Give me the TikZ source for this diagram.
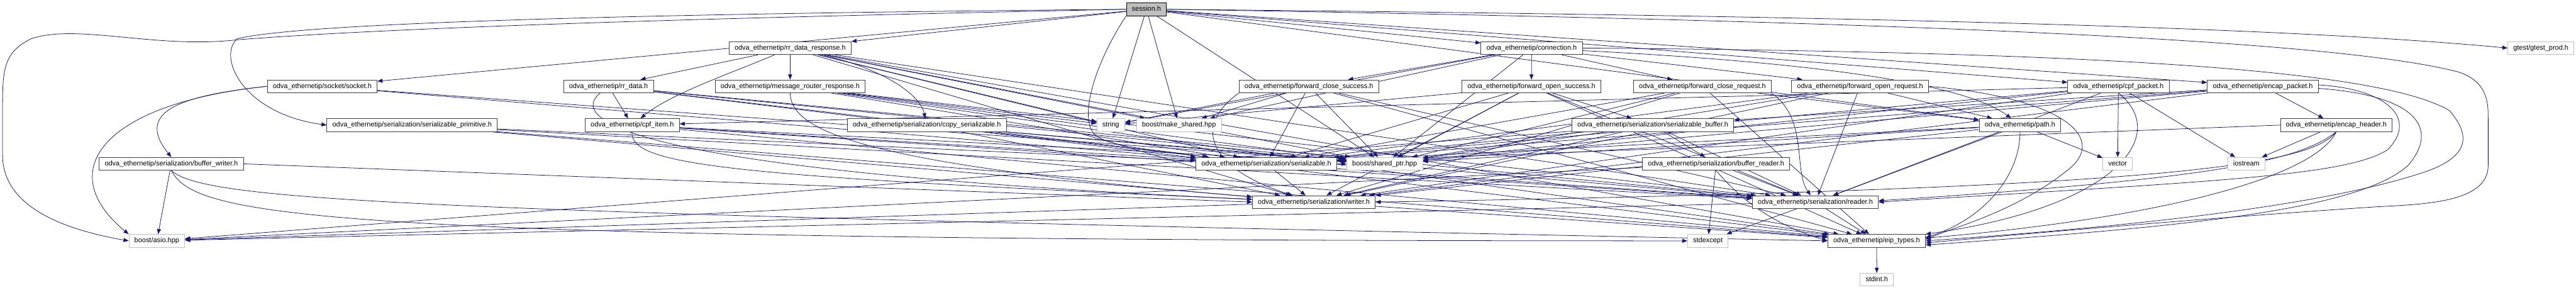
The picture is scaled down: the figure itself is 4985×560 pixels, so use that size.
\documentclass[tikz,border=0pt]{standalone}
\usepackage{fontspec}
\setmainfont{Liberation Sans}
\usetikzlibrary{arrows.meta,backgrounds}
\definecolor{edgec}{HTML}{191970}
\definecolor{graybd}{HTML}{BFBFBF}
\definecolor{nodebd}{HTML}{404040}
\tikzset{
  box/.style={draw=nodebd, fill=white, line width=0.75pt, minimum height=18.75pt, inner xsep=8pt, inner ysep=0pt, font=\fontsize{10pt}{12pt}\selectfont, text height=7.3pt, text depth=2pt},
  ext/.style={box, draw=graybd},
  root/.style={box, fill=graybd, draw=black},
  edge/.style={draw=edgec, line width=0.7pt, -{Triangle[length=7.5pt,width=5.8pt]}},
}
\begin{document}
\begin{tikzpicture}[x=0.75pt,y=-0.75pt]
\useasboundingbox (0,0) rectangle (4985,560);
% nodes
\node[root] (S) at (2218.5,18) {session.h};
\node[box] (RRR) at (1529,93) {odva\_ethernetip/rr\_data\_response.h};
\node[box] (CON) at (2964,93) {odva\_ethernetip/connection.h};
\node[ext] (GT) at (4917,93) {gtest/gtest\_prod.h};
\node[box] (SOC) at (623.5,167) {odva\_ethernetip/socket/socket.h};
\node[box] (RRD) at (1177.5,167) {odva\_ethernetip/rr\_data.h};
\node[box] (MRR) at (1529,167) {odva\_ethernetip/message\_router\_response.h};
\node[box] (FCS) at (2533,167) {odva\_ethernetip/forward\_close\_success.h};
\node[box] (FOS) at (2963.5,167) {odva\_ethernetip/forward\_open\_success.h};
\node[box] (FCR) at (3294.5,167) {odva\_ethernetip/forward\_close\_request.h};
\node[box] (FOR) at (3599.5,167) {odva\_ethernetip/forward\_open\_request.h};
\node[box] (CPK) at (4099.5,167) {odva\_ethernetip/cpf\_packet.h};
\node[box] (ENP) at (4379,167) {odva\_ethernetip/encap\_packet.h};
\node[box] (SPR) at (797.5,242) {odva\_ethernetip/serialization/serializable\_primitive.h};
\node[box] (CPI) at (1223.5,242) {odva\_ethernetip/cpf\_item.h};
\node[box] (CPS) at (1793.5,242) {odva\_ethernetip/serialization/copy\_serializable.h};
\node[ext] (STR) at (2149.5,242) {string};
\node[ext] (MKS) at (2281.5,242) {boost/make\_shared.hpp};
\node[box] (SBF) at (3198.5,242) {odva\_ethernetip/serialization/serializable\_buffer.h};
\node[box] (PTH) at (3909,242) {odva\_ethernetip/path.h};
\node[box] (ENH) at (4521,242) {odva\_ethernetip/encap\_header.h};
\node[box] (BW) at (331.5,317) {odva\_ethernetip/serialization/buffer\_writer.h};
\node[box] (SER) at (2450.5,317) {odva\_ethernetip/serialization/serializable.h};
\node[ext] (SHP) at (2679.5,317) {boost/shared\_ptr.hpp};
\node[box] (BR) at (3321,317) {odva\_ethernetip/serialization/buffer\_reader.h};
\node[ext] (VEC) at (4098,317) {vector};
\node[ext] (IOS) at (4347,317) {iostream};
\node[box] (WR) at (2542.5,391) {odva\_ethernetip/serialization/writer.h};
\node[box] (RD) at (3513,391) {odva\_ethernetip/serialization/reader.h};
\node[ext] (ASIO) at (303.5,466) {boost/asio.hpp};
\node[ext] (SEX) at (3305,466) {stdexcept};
\node[box] (EIP) at (3631.5,466) {odva\_ethernetip/eip\_types.h};
\node[ext] (STI) at (3632,541) {stdint.h};
\begin{scope}[on background layer]
\fill[white] (0,0) rectangle (4985,560);
% session
\draw[edge] (S) -- (RRR);
\draw[edge] (S) -- (CON);
\draw[edge] (S.east) .. controls (3500,30) and (4400,50) .. (GT.west);
\draw[edge] (S) -- (STR);
\draw[edge] (S) -- (MKS);
\draw[edge] (S) -- (SOC);
\draw[edge] (S.west) .. controls (1500,32) and (800,50) .. (459,77) .. controls (300,95) and (150,45) .. (60,75) .. controls (10,100) and (5,130) .. (5,200) -- (5,300) .. controls (5,390) and (100,440) .. (ASIO.west);
\draw[edge] (S.west) .. controls (1400,25) and (600,40) .. (459,75) .. controls (420,110) and (470,220) .. (SPR.west);
\draw[edge] (S) -- (CPK);
\draw[edge] (S) -- (ENP);
\draw[edge] (S.east) .. controls (3500,38) and (4500,70) .. (4760,140) .. controls (4815,160) and (4815,200) .. (4815,230) -- (4815,320) .. controls (4815,390) and (4700,395) .. (4600,400) .. controls (4300,420) and (4000,445) .. ([yshift=-3pt]EIP.east);
\draw[edge] (S.south west) .. controls (2120,120) and (2085,230) .. (2120,262) .. controls (2160,290) and (2280,292) .. (SER.north west);
\draw[edge] (S) -- (PTH);
\draw[edge] (S) -- (SHP);
% rr_data_response
\draw[edge] (RRR) -- (MRR);
\draw[edge] (RRR) -- (RRD);
\draw[edge] (RRR) .. controls (1700,130) and (1780,180) .. (CPS);
\draw[edge] (RRR) .. controls (1420,140) and (1300,180) .. (CPI);
\draw[edge] (RRR) -- (STR);
\draw[edge] (RRR) -- (MKS);
\draw[edge] (RRR) -- (SER);
\draw[edge] (RRR) -- (SHP);
\draw[edge] (RRR) -- (WR);
\draw[edge] (RRR) -- (RD);
\draw[edge] (RRR) -- (EIP);
% message_router_response
\draw[edge] (MRR) -- (SER);
\draw[edge] (MRR) .. controls (1530,260) and (1700,320) .. (WR);
\draw[edge] (MRR) -- (RD);
\draw[edge] (MRR) -- (EIP);
\draw[edge] (MRR) -- (SHP);
\draw[edge] (MRR) -- (STR);
% rr_data
\draw[edge] (RRD) -- (CPI);
\draw[edge] (RRD) -- (SER);
\draw[edge] (RRD) -- (RD);
\draw[edge] (RRD) .. controls (1100,230) and (1200,330) .. (WR);
\draw[edge] (RRD) -- (EIP);
\draw[edge] (RRD) -- (SHP);
% cpf_item
\draw[edge] (CPI) -- (SER);
\draw[edge] (CPI) -- (RD);
\draw[edge] (CPI) .. controls (1220,320) and (1400,340) .. (WR);
\draw[edge] (CPI) -- (EIP);
\draw[edge] (CPI) -- (SHP);
% cpf_packet
\draw[edge] (CPK) -- (VEC);
\draw[edge] (CPK) -- (CPI);
\draw[edge] (CPK) -- (IOS);
\draw[edge] (CPK.south) .. controls (4200,260) and (4100,400) .. (EIP.north east);
\draw[edge] (CPK) -- (SER);
\draw[edge] (CPK) -- (RD);
\draw[edge] (CPK) -- (WR);
\draw[edge] (CPK) -- (SHP);
% serializable_primitive
\draw[edge] (SPR) -- (SER);
\draw[edge] (SPR) -- (RD);
\draw[edge] (SPR) -- (WR);
\draw[edge] (SPR) -- (EIP);
% copy_serializable
\draw[edge] (CPS) -- (SER);
\draw[edge] (CPS) -- (WR);
\draw[edge] (CPS) -- (RD);
\draw[edge] (CPS) -- (SHP);
% socket
\draw[edge] (SOC.west) .. controls (200,200) and (100,330) .. (ASIO.north west);
\draw[edge] (SOC.west) .. controls (350,185) and (260,215) .. (BW.north);
\draw[edge] (SOC) -- (SER);
\draw[edge] (SOC) -- (SHP);
% buffer_writer
\draw[edge] (BW) -- (ASIO);
\draw[edge] (BW.east) -- (WR.west);
\draw[edge] (BW.south) .. controls (400,390) and (800,410) .. (EIP.west);
\draw[edge] (BW.south) .. controls (380,420) and (600,466) .. (SEX.west);
% forward_close_success
\draw[edge] (FCS) -- (SER);
\draw[edge] (FCS) -- (SHP);
\draw[edge] (FCS.south west) .. controls (2300,250) and (2350,330) .. (WR);
\draw[edge] (FCS) -- (RD);
\draw[edge] (FCS) -- (EIP);
\draw[edge] (FCS) -- (STR);
\draw[edge] (FCS) -- (MKS);
% forward_open_success
\draw[edge] (FOS) -- (SBF);
\draw[edge] (FOS) -- (SER);
\draw[edge] (FOS) -- (SHP);
\draw[edge] (FOS) -- (WR);
\draw[edge] (FOS) -- (RD);
\draw[edge] (FOS) -- (EIP);
\draw[edge] (FOS) -- (STR);
% forward_close_request
\draw[edge] (FCR) -- (PTH);
\draw[edge] (FCR) -- (SER);
\draw[edge] (FCR) -- (SHP);
\draw[edge] (FCR) -- (WR);
\draw[edge] (FCR.south east) .. controls (3500,230) and (3470,330) .. (RD);
\draw[edge] (FCR) -- (EIP);
% forward_open_request
\draw[edge] (FOR) -- (PTH);
\draw[edge] (FOR) -- (SER);
\draw[edge] (FOR) -- (SHP);
\draw[edge] (FOR) -- (WR);
\draw[edge] (FOR) -- (RD);
\draw[edge] (FOR.east) .. controls (4000,190) and (4080,270) .. (4000,330) .. controls (3900,410) and (3780,440) .. ([yshift=2pt]EIP.east);
% connection
\draw[edge] (CON) -- (FOS);
\draw[edge] (CON) -- (FCR);
\draw[edge] (CON) -- (FOR);
\draw[edge] (CON) -- (FCS);
\draw[edge] (CON) .. controls (3500,120) and (3800,160) .. (PTH);
\draw[edge] (CON) -- (STR);
\draw[edge] (CON) -- (MKS);
\draw[edge] (CON) -- (SHP);
\draw[edge] (CON.east) .. controls (4000,100) and (4600,130) .. (4740,214) .. controls (4780,260) and (4780,300) .. (4700,330) .. controls (4500,400) and (4100,440) .. (EIP.east);
% serializable_buffer
\draw[edge] (SBF) -- (BR);
\draw[edge] (SBF) -- (SER);
\draw[edge] (SBF) -- (RD);
\draw[edge] (SBF) -- (WR);
\draw[edge] (SBF) -- (ASIO);
\draw[edge] (SBF) -- (SHP);
% buffer_reader
\draw[edge] (BR) -- (RD);
\draw[edge] (BR) -- (SEX);
\draw[edge] (BR) -- (ASIO);
\draw[edge] (BR.south) .. controls (3380,400) and (3450,440) .. (EIP.west);
% path
\draw[edge] (PTH) -- (VEC);
\draw[edge] (PTH.south) .. controls (3910,330) and (3850,420) .. ([yshift=-5pt]EIP.north east);
\draw[edge] (PTH) -- (RD);
\draw[edge] (PTH) -- (WR);
\draw[edge] (PTH) -- (SER);
\draw[edge] (PTH) -- (SHP);
% encap_packet
\draw[edge] (ENP) -- (ENH);
\draw[edge] (ENP) -- (SER);
\draw[edge] (ENP) -- (SBF);
\draw[edge] ([yshift=2pt]ENP.east) .. controls (4620,172) and (4680,230) .. (4620,290) .. controls (4540,340) and (4300,350) .. (RD.east);
\draw[edge] ([yshift=-3pt]ENP.east) .. controls (4680,185) and (4720,250) .. (4660,320) .. controls (4560,410) and (4200,440) .. ([yshift=-6pt]EIP.east);
\draw[edge] (ENP) -- (WR);
\draw[edge] (ENP) -- (SHP);
% encap_header
\draw[edge] (ENH) -- (IOS);
\draw[edge] (ENH.west) -- (SER);
\draw[edge] (ENH.south) .. controls (4450,310) and (4300,345) .. ([yshift=2pt]RD.east);
\draw[edge] (ENH.south) .. controls (4470,320) and (4200,365) .. (WR.east);
\draw[edge] (ENH.south) .. controls (4480,340) and (4200,420) .. ([yshift=4pt]EIP.east);
% serializable
\draw[edge] (SER) -- (WR);
\draw[edge] (SER) -- (RD);
\draw[edge] (SER) -- (SHP);
% writer
\draw[edge] (WR) -- (ASIO);
\draw[edge] (WR) -- (EIP);
% reader
\draw[edge] (RD) -- (EIP);
\draw[edge] (RD) -- (SEX);
\draw[edge] (RD) -- (ASIO);
% eip_types
\draw[edge] (EIP) -- (STI);
\end{scope}
\end{tikzpicture}
\end{document}
